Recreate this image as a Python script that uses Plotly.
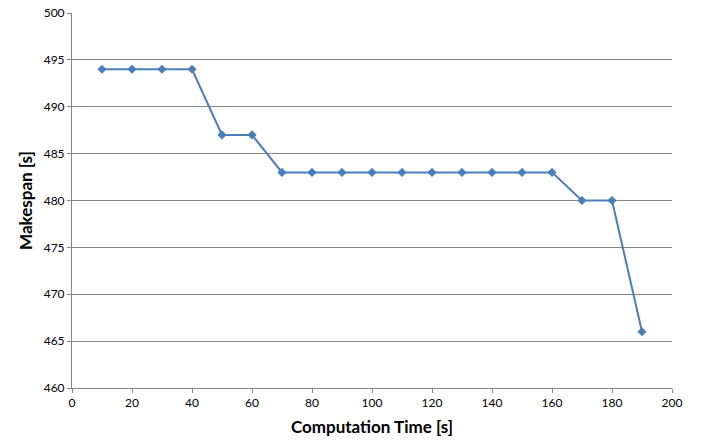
import plotly.graph_objects as go

computation_time = [10, 20, 30, 40, 50, 60, 70, 80, 90, 100, 110, 120, 130, 140, 150, 160, 170, 180, 190]
makespan = [494, 494, 494, 494, 487, 487, 483, 483, 483, 483, 483, 483, 483, 483, 483, 483, 480, 480, 466]

fig = go.Figure()
fig.add_trace(go.Scatter(
    x=computation_time, y=makespan, mode="lines+markers",
    line=dict(color="#4A7EBB", width=2),
    marker=dict(symbol="diamond", size=7, color="#4A7EBB"),
    showlegend=False,
))

fig.update_layout(
    width=710, height=441,
    margin=dict(l=72, r=38, t=13, b=53),
    paper_bgcolor="white", plot_bgcolor="white",
    font=dict(family="Lato, Carlito, Liberation Sans, sans-serif", size=12, color="#000000"),
)
fig.update_xaxes(
    range=[0, 200], tickvals=list(range(0, 201, 20)),
    showgrid=False, showline=True, linecolor="#868686", linewidth=1,
    ticks="outside", ticklen=4, tickcolor="#868686",
    title=dict(text="<b>Computation Time [s]</b>", font=dict(size=17), standoff=11),
    zeroline=False, automargin=False,
)
fig.update_yaxes(
    range=[460, 500], tickvals=list(range(460, 501, 5)),
    showgrid=True, gridcolor="#868686", gridwidth=1,
    showline=True, linecolor="#868686", linewidth=1,
    ticks="outside", ticklen=4, tickcolor="#868686",
    title=dict(text="<b>Makespan [s]</b>", font=dict(size=17), standoff=6),
    zeroline=False, automargin=False,
)

fig.write_html("out.html", config={"displayModeBar": False},
               post_script="document.body.style.margin='0';document.body.style.overflow='hidden';")
